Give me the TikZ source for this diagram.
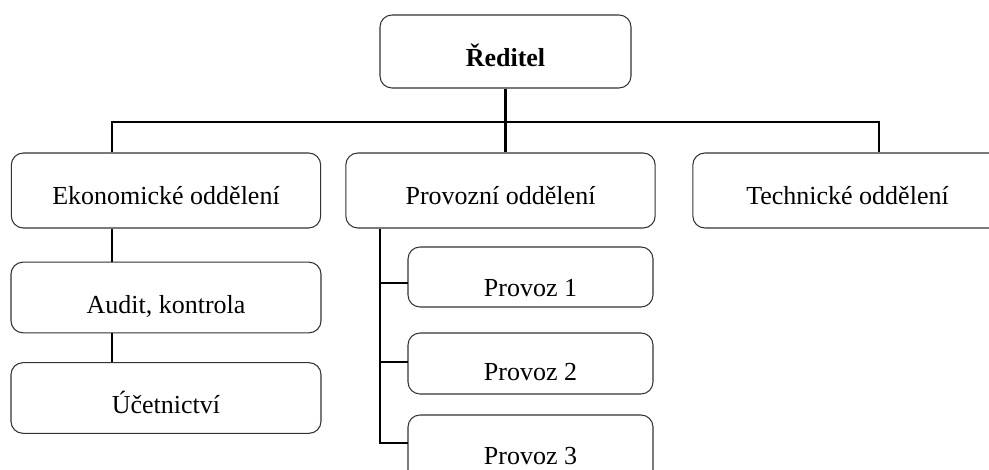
\documentclass[tikz,border=0pt]{standalone}
\usepackage{fontspec}
\setmainfont{Liberation Serif}

\begin{document}
\begin{tikzpicture}[x=0.75pt,y=-0.75pt,
  unit/.style={draw=black!80,line width=0.8pt,rounded corners=9pt,inner sep=0pt,
    font=\fontsize{19.5}{23}\selectfont,text depth=0pt},
  dept/.style={unit,minimum width=232pt,minimum height=56.25pt,text height=21pt},
  sub/.style={unit,minimum width=232.5pt,minimum height=53pt,text height=#1},
  plant/.style={unit,minimum width=183.75pt,minimum height=45pt,text height=#1},
  link/.style={line width=2.1pt},
]
  \useasboundingbox (0,0) rectangle (989,470);
  \clip (0,0) rectangle (989,470);

  \node[unit,minimum width=188.25pt,minimum height=54.75pt,text height=22.5pt,
    font=\fontsize{19.5}{23}\selectfont\bfseries] (red) at (505.5,51.5) {Ředitel};
  \node[dept] (eko) at (166,190.5) {Ekonomické oddělení};
  \node[dept] (prov) at (500.5,190.5) {Provozní oddělení};
  \node[dept] (tech) at (847.5,190.5) {Technické oddělení};
  \node[sub=24pt] (audit) at (166,297.5) {Audit, kontrola};
  \node[sub=23pt] (ucet) at (166,398) {Účetnictví};
  \node[plant=29pt] (p1) at (530.5,277) {Provoz 1};
  \node[plant=25.5pt,minimum height=45.75pt] (p2) at (530.5,363.5) {Provoz 2};
  \node[plant=14pt,minimum height=60pt] (p3) at (530.5,455) {Provoz 3};

  \coordinate (busL) at (112,122);
  \coordinate (busR) at (879,122);
  \coordinate (trunk) at (380,0);
  \coordinate (b1) at (408,283);
  \coordinate (b2) at (408,362);
  \coordinate (b3) at (408,443);

  \draw[link] (eko.north -| busL) -- (busL) -- (busR) -- (tech.north -| busR);
  \draw[link] (red.south) -- (prov.north -| red.south);
  \draw[link] (eko.south -| busL) -- (audit.north -| busL);
  \draw[link] (audit.south -| busL) -- (ucet.north -| busL);
  \draw[link] (prov.south -| trunk) |- (b3);
  \draw[link] (trunk |- b1) -- (b1);
  \draw[link] (trunk |- b2) -- (b2);
\end{tikzpicture}
\end{document}
